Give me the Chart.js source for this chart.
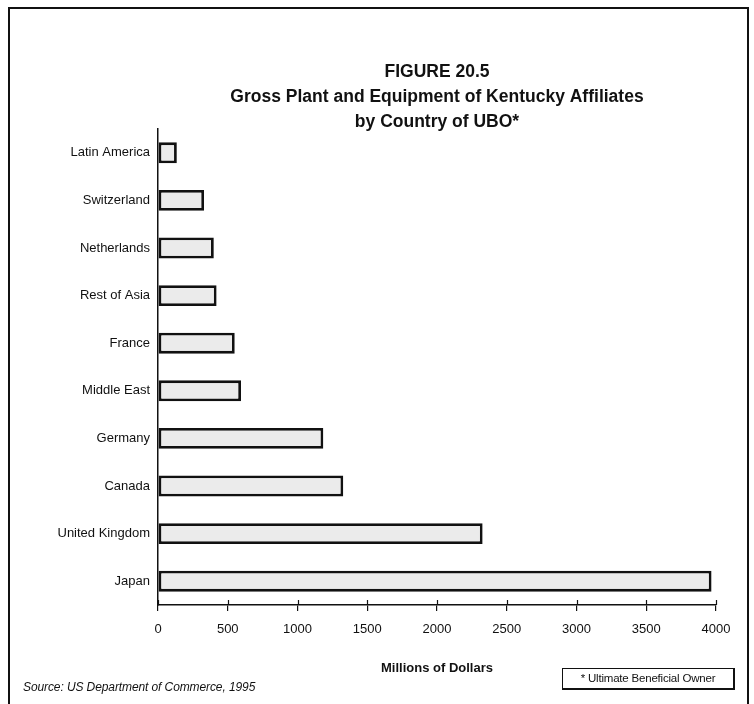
<!DOCTYPE html>
<html>
<head>
<meta charset="utf-8">
<script src="https://cdn.jsdelivr.net/npm/chart.js@4"></script>
<style>
  html, body { margin: 0; padding: 0; background: #fff; overflow: hidden; }
  #wrap { position: relative; width: 754px; height: 704px; }
  #frame { position: absolute; left: 8px; top: 7px; width: 741px; height: 720px; border: 2px solid #111; box-sizing: border-box; }
  #source { position: absolute; left: 23px; top: 680px; font: italic 12px "Liberation Sans", Arial, sans-serif; color: #111; letter-spacing: -0.1px; }
  #note { position: absolute; left: 562px; top: 668px; width: 173px; height: 22px; box-sizing: border-box;
          border: 1.5px solid #111; border-right-width: 2.5px; border-bottom-width: 2.5px;
          font: 11.5px "Liberation Sans", Arial, sans-serif; color: #111; text-align: center; line-height: 18px; letter-spacing: -0.2px; }
  canvas { position: absolute; left: 0; top: 0; }
</style>
</head>
<body>
<div id="wrap">
  <canvas id="myChart" width="754" height="704"></canvas>
  <div id="frame"></div>
  <div id="source">Source: US Department of Commerce, 1995</div>
  <div id="note">* Ultimate Beneficial Owner</div>
</div>
<script>
// Países de origen (UBO) y planta y equipo bruto, millones de dólares
const countries = ['Latin America', 'Switzerland', 'Netherlands', 'Rest of Asia', 'France',
                   'Middle East', 'Germany', 'Canada', 'United Kingdom', 'Japan'];
const plantEquipment = [135, 330, 400, 420, 550, 595, 1185, 1328, 2327, 3968];
const xTicks = [0, 500, 1000, 1500, 2000, 2500, 3000, 3500, 4000];
const titleLines = ['FIGURE 20.5', 'Gross Plant and Equipment of Kentucky Affiliates', 'by Country of UBO*'];

const FONT = '"Liberation Sans", Arial, sans-serif';

// Título centrado sobre el área del gráfico
const titlePlugin = {
    id: 'figureTitle',
    afterDraw(chart) {
        const { ctx, chartArea } = chart;
        const cx = (chartArea.left + chartArea.right) / 2;
        ctx.save();
        ctx.fillStyle = '#111';
        ctx.font = 'bold 17.5px ' + FONT;
        ctx.textAlign = 'center';
        ctx.textBaseline = 'middle';
        titleLines.forEach((line, i) => ctx.fillText(line, cx, 72 + i * 25));
        ctx.restore();
    }
};

// Marcas del eje X que cruzan la línea del eje hacia arriba
const tickCross = {
    id: 'tickCross',
    afterDraw(chart) {
        const { ctx, scales } = chart;
        const x = scales.x;
        ctx.save();
        ctx.strokeStyle = '#111';
        ctx.lineWidth = 1.2;
        xTicks.forEach(v => {
            const px = Math.round(x.getPixelForValue(v)) + 0.5;
            ctx.beginPath();
            ctx.moveTo(px, x.top - 5);
            ctx.lineTo(px, x.top);
            ctx.stroke();
        });
        ctx.restore();
    }
};

const ctx = document.getElementById('myChart').getContext('2d');

new Chart(ctx, {
    type: 'bar',
    data: {
        labels: countries,
        datasets: [{
            data: plantEquipment,
            backgroundColor: '#ebebeb',
            borderColor: '#111',
            borderWidth: 2.8,
            borderSkipped: false,
            categoryPercentage: 1,
            barPercentage: 0.44
        }]
    },
    options: {
        indexAxis: 'y',
        responsive: false,
        animation: false,
        events: [],
        layout: { padding: { top: 129, right: 38, left: 0, bottom: 0 } },
        plugins: {
            legend: { display: false },
            tooltip: { enabled: false }
        },
        scales: {
            x: {
                min: 0,
                max: 4000,
                afterBuildTicks: scale => { scale.ticks = xTicks.map(v => ({ value: v })); },
                afterFit: scale => { scale.height = 99; },
                grid: { display: true, drawOnChartArea: false, tickLength: 6, color: '#111', lineWidth: 1.2 },
                border: { display: true, color: '#111', width: 1.5 },
                ticks: {
                    color: '#111',
                    padding: 11,
                    font: { family: FONT, size: 13 },
                    callback: value => String(value)
                },
                title: {
                    display: true,
                    text: 'Millions of Dollars',
                    color: '#111',
                    font: { family: FONT, size: 13, weight: 'bold' },
                    padding: { top: 0, bottom: 28 }
                }
            },
            y: {
                afterFit: scale => { scale.width = 158; },
                grid: { display: false },
                border: { display: true, color: '#111', width: 1.5 },
                ticks: { color: '#111', padding: 0, font: { family: FONT, size: 13 } }
            }
        }
    },
    plugins: [titlePlugin, tickCross]
});
</script>
</body>
</html>
